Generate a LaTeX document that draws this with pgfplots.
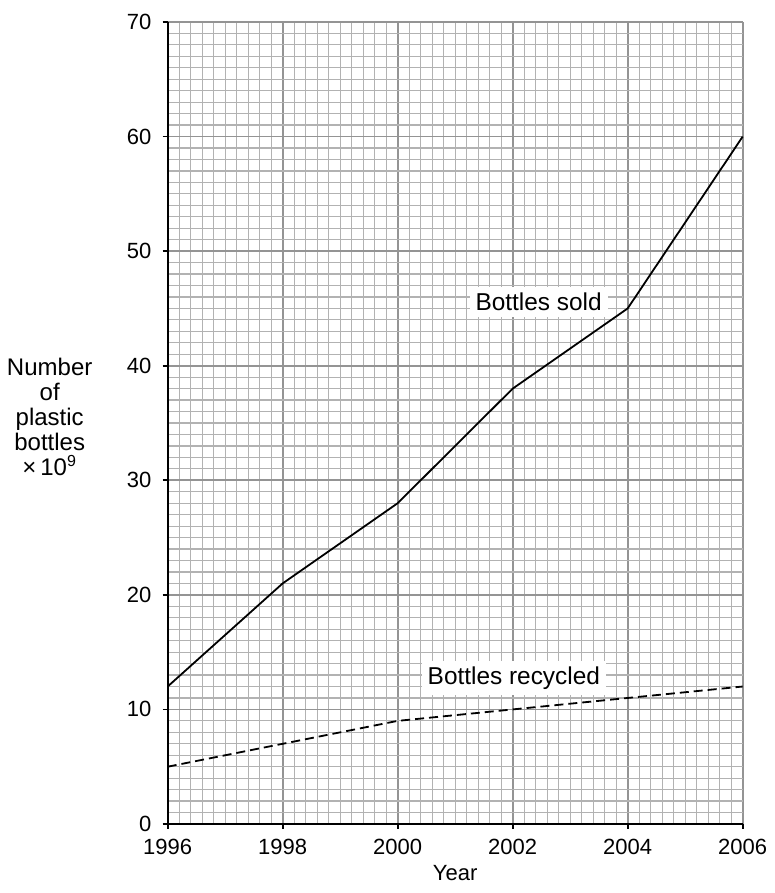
\documentclass[border=0pt]{standalone}
\usepackage{pgfplots}
\pgfplotsset{compat=1.18}
\usepackage{fontspec}
\setmainfont{Liberation Sans}
\begin{document}
\fontsize{10.5pt}{12.5pt}\selectfont
\begin{tikzpicture}
\begin{axis}[
  name=ax,
  scale only axis,
  width=287.5pt, height=401pt,
  xmin=1996, xmax=2006, ymin=0, ymax=70,
  axis x line*=bottom,
  axis y line*=left,
  xtick={1996,1998,2000,2002,2004,2006},
  ytick={0,10,20,30,40,50,60,70},
  minor x tick num=9,
  minor y tick num=9,
  grid=both,
  major grid style={draw=black!42, line width=0.9pt},
  minor grid style={draw=black!30, line width=0.6pt},
  axis line style={black, line width=1.1pt, -},
  tick align=outside,
  major tick length=2.5pt,
  minor tick length=0pt,
  tick style={black, line width=0.9pt},
  /pgf/number format/1000 sep={},
  /pgf/number format/assume math mode=true,
  tick label style={font=\fontsize{11pt}{13pt}\selectfont},
  xticklabel style={yshift=-1.5pt},
  yticklabel style={xshift=-2pt},
  clip=false,
]
\addplot[black, line width=0.9pt] coordinates {
  (1996,12) (1998,21) (2000,28) (2002,38) (2004,45) (2006,60)};
\addplot[black, line width=0.9pt, dash pattern=on 4.5pt off 2.5pt] coordinates {
  (1996,5) (1998,7) (2000,9) (2002,10) (2004,11) (2006,12)};
\node[fill=white, inner sep=3pt, font=\fontsize{12.2pt}{14pt}\selectfont] at (axis cs:2002.45,45.6) {Bottles sold};
\node[fill=white, inner sep=3pt, font=\fontsize{12.2pt}{14pt}\selectfont] at (axis cs:2002.02,12.75) {Bottles recycled};
\node[align=center, font=\fontsize{12pt}{12.5pt}\selectfont] at ([xshift=-59pt,yshift=3pt]rel axis cs:0,0.5) {Number\\of\\plastic\\bottles\\×\,10\textsuperscript{9}};
\node[font=\fontsize{11pt}{13pt}\selectfont] at ([yshift=-24.5pt]rel axis cs:0.5,0) {Year};
\end{axis}
\useasboundingbox ([xshift=-83pt,yshift=-34.5pt]ax.south west) rectangle ([xshift=12.5pt,yshift=11pt]ax.north east);
\end{tikzpicture}
\end{document}
